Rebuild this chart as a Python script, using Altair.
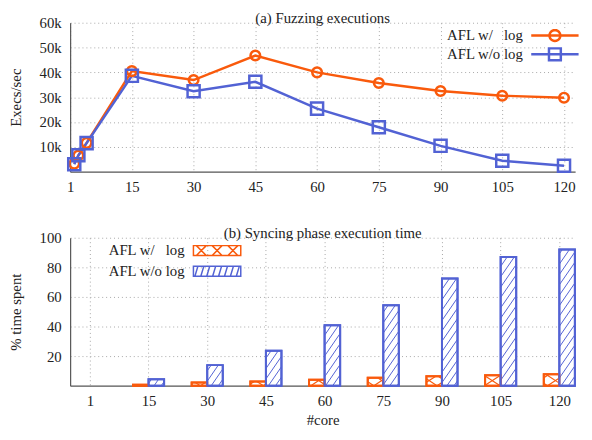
import math
import altair as alt
import pandas as pd

FONT = "Liberation Serif"
TXT = "#222222"
ORANGE = "#f95a0c"
BLUE = "#5262d4"
SERIES = ["AFL w/\u00a0\u00a0\u00a0log", "AFL w/o log"]
COLORS = [ORANGE, BLUE]

# ---------------- (a) Fuzzing executions ----------------
cores_a = [1, 2, 4, 15, 30, 45, 60, 75, 90, 105, 120]
execs_with_log = [3200, 6500, 11600, 40500, 36900, 46800, 40000, 35700, 32500, 30600, 29800]
execs_without_log = [3000, 6600, 11500, 38600, 32400, 36200, 25400, 17900, 10400, 4400, 2400]
ticks_a = [0, 15, 30, 45, 60, 75, 90, 105, 120]
tick_labels_a = ["1", "15", "30", "45", "60", "75", "90", "105", "120"]
yticks_a = [10000, 20000, 30000, 40000, 50000, 60000]

# ---------------- (b) Syncing phase execution time ----------------
cores_b = ["1", "15", "30", "45", "60", "75", "90", "105", "120"]
sync_with_log = [0, 0.6, 2.2, 2.9, 4.0, 5.3, 6.4, 7.1, 7.7]
sync_without_log = [0, 4.4, 13.9, 23.6, 40.8, 54.3, 72.4, 87.0, 92.0]
yticks_b = [20, 40, 60, 80, 100]

W = 512
HA = 151
HB = 150
XA_DOMAIN = [0, 122.7]
XB_DOMAIN = [-0.336, 8.269]
BW = 0.265  # bar width in category units

df_a = pd.DataFrame({
    "core": cores_a * 2,
    "series": [SERIES[0]] * len(cores_a) + [SERIES[1]] * len(cores_a),
    "value": execs_with_log + execs_without_log,
})
df_b = pd.DataFrame({
    "idx": list(range(len(cores_b))) * 2,
    "series": [SERIES[0]] * len(cores_b) + [SERIES[1]] * len(cores_b),
    "value": sync_with_log + sync_without_log,
})

axis_style = dict(
    domainColor="#555555", domainWidth=1.2, gridColor="#a8a8a8", gridDash=[1, 3],
    gridWidth=1, labelFont=FONT, labelFontSize=15, labelColor=TXT, titleFont=FONT,
    titleFontSize=15, titleFontWeight="normal", titleColor=TXT, ticks=False,
)

def lbl_expr(vals, labels):
    v = ",".join(str(x) for x in vals)
    l = ",".join("'" + s + "'" for s in labels)
    return f"[{l}][indexof([{v}], datum.value)]"

xa_scale = alt.Scale(domain=XA_DOMAIN, nice=False, zero=False)
ya_scale = alt.Scale(domain=[0, 60000], nice=False)
xa_axis = alt.Axis(values=ticks_a, labelExpr=lbl_expr(ticks_a, tick_labels_a), title=None,
                   labelPadding=8, grid=True, labelFlush=False, **axis_style)
ya_axis = alt.Axis(values=yticks_a, labelExpr="format(datum.value/1000, 'd') + 'k'",
                   title="Execs/sec", labelPadding=9, titlePadding=16, grid=True, **axis_style)

def XA(f):
    return alt.X(f, scale=xa_scale, axis=xa_axis)

def YA(f):
    return alt.Y(f, scale=ya_scale, axis=ya_axis)

base_a = alt.Chart(df_a)
layers_a = []
for s, c in zip(SERIES, COLORS):
    layers_a.append(base_a.transform_filter(alt.datum.series == s)
                    .mark_line(color=c, strokeWidth=2.5)
                    .encode(x=XA("core:Q"), y=YA("value:Q")))
for s, c, shp, sz in zip(SERIES, COLORS, ["circle", "square"], [95, 150]):
    layers_a.append(base_a.transform_filter(alt.datum.series == s)
                    .mark_point(color=c, shape=shp, size=sz, filled=False, strokeWidth=2.5, opacity=1)
                    .encode(x=XA("core:Q"), y=YA("value:Q")))

# legend symbols: line + marker (unit = 6px)
def circle_path(r, n=24):
    pts = [(r * math.cos(2 * math.pi * k / n), r * math.sin(2 * math.pi * k / n)) for k in range(n)]
    return "M" + "L".join(f"{x:.3f},{y:.3f}" for x, y in pts) + "Z"

half_line = 24.0 / 6
leg_circle = f"M{-half_line:.3f},0L{half_line:.3f},0" + circle_path(5.5 / 6)
leg_square = f"M{-half_line:.3f},0L{half_line:.3f},0M-1,-1L1,-1L1,1L-1,1Z"

legend_style = dict(title=None, orient="none", direction="vertical", labelFont=FONT,
                    labelFontSize=15, labelColor=TXT, labelAlign="right", padding=0,
                    fillColor="white", labelLimit=200, symbolOffset=0)

leg_a = alt.Legend(legendX=484, legendY=5.5, symbolSize=144, symbolStrokeWidth=2.5,
                   labelOffset={"expr": "-40"}, rowPadding={"expr": "-6"}, **legend_style)
layers_a.append(base_a.transform_filter("false")
                .mark_point(filled=False, strokeWidth=2.5, opacity=1)
                .encode(color=alt.Color("series:N", scale=alt.Scale(domain=SERIES, range=COLORS), legend=leg_a),
                        shape=alt.Shape("series:N", scale=alt.Scale(domain=SERIES, range=[leg_circle, leg_square]),
                                        legend=leg_a)))

chart_a = alt.layer(*layers_a).properties(
    width=W, height=HA,
    title=alt.TitleParams("(a) Fuzzing executions", font=FONT, fontSize=15, fontWeight="normal",
                          color=TXT, offset=-10, anchor="middle"))

# ---------------- (b) ----------------
xb_scale = alt.Scale(domain=XB_DOMAIN, nice=False, zero=False)
yb_scale = alt.Scale(domain=[0, 100], nice=False)
xb_axis = alt.Axis(values=list(range(len(cores_b))),
                   labelExpr=lbl_expr(list(range(len(cores_b))), cores_b), title="#core",
                   labelPadding=8, titlePadding=4, grid=True, labelFlush=False, **axis_style)
yb_axis = alt.Axis(values=yticks_b, title="% time spent", labelPadding=9, titlePadding=16,
                   grid=True, **axis_style)

def XB(f):
    return alt.X(f, scale=xb_scale, axis=xb_axis)

def YB(f):
    return alt.Y(f, scale=yb_scale, axis=yb_axis)

SX = W / (XB_DOMAIN[1] - XB_DOMAIN[0])
SY = HB / 100.0

base_b = alt.Chart(df_b).transform_filter("datum.value > 0").transform_calculate(base="0")

def series_bars(s, left):
    if left:
        b = base_b.transform_filter(alt.datum.series == s).transform_calculate(
            xl=f"datum.idx - {BW}", xr="datum.idx")
    else:
        b = base_b.transform_filter(alt.datum.series == s).transform_calculate(
            xl="datum.idx", xr=f"datum.idx + {BW}")
    return b

def hatch(b, color, m, P, width=1.0):
    M = f"({m})"
    return (b.transform_calculate(ul=f"datum.xl*{SX}")
            .transform_calculate(ur=f"datum.xr*{SX}")
            .transform_calculate(vt=f"datum.value*{SY}")
            .transform_calculate(bmin=f"min(0-{M}*datum.ul, 0-{M}*datum.ur)")
            .transform_calculate(bmax=f"max(datum.vt-{M}*datum.ul, datum.vt-{M}*datum.ur)")
            .transform_calculate(ks=f"sequence(ceil(datum.bmin/{P}), floor(datum.bmax/{P})+1)")
            .transform_flatten(["ks"], ["k"])
            .transform_calculate(bb=f"datum.k*{P}")
            .transform_calculate(lo=f"min((0-datum.bb)/{M}, (datum.vt-datum.bb)/{M})")
            .transform_calculate(hi=f"max((0-datum.bb)/{M}, (datum.vt-datum.bb)/{M})")
            .transform_calculate(ua="max(datum.ul, datum.lo)")
            .transform_calculate(ub="min(datum.ur, datum.hi)")
            .transform_filter("datum.ua < datum.ub")
            .transform_calculate(hx1=f"datum.ua/{SX}")
            .transform_calculate(hy1=f"({M}*datum.ua+datum.bb)/{SY}")
            .transform_calculate(hx2=f"datum.ub/{SX}")
            .transform_calculate(hy2=f"({M}*datum.ub+datum.bb)/{SY}")
            .mark_rule(color=color, strokeWidth=width)
            .encode(x=XB("hx1:Q"), x2="hx2:Q", y=YB("hy1:Q"), y2="hy2:Q"))

layers_b = []
b_or = series_bars(SERIES[0], True)
b_bl = series_bars(SERIES[1], False)
for b, c in [(b_or, ORANGE), (b_bl, BLUE)]:
    layers_b.append(b.mark_rect(fill="white", stroke=c, strokeWidth=2)
                    .encode(x=XB("xl:Q"), x2="xr:Q", y=YB("value:Q"), y2="base:Q"))
layers_b.append(hatch(b_or, ORANGE, 0.65, 10.4, 1.2))
layers_b.append(hatch(b_or, ORANGE, -0.65, 10.4, 1.2))
layers_b.append(hatch(b_bl, BLUE, 1.45, 10.5, 1.0))
for b, c in [(b_or, ORANGE), (b_bl, BLUE)]:
    layers_b.append(b.mark_rect(fillOpacity=0, stroke=c, strokeWidth=2)
                    .encode(x=XB("xl:Q"), x2="xr:Q", y=YB("value:Q"), y2="base:Q"))

# legend swatches (unit = 5px): rectangle 48x10 with pattern
hw = 4.8
rect = f"M{-hw},-1L{hw},-1L{hw},1L{-hw},1Z"
xs = ""
for cx in [-3.2, 0, 3.2]:
    xs += f"M{cx-1:.2f},-1L{cx+1:.2f},1M{cx-1:.2f},1L{cx+1:.2f},-1"
stripes = ""
x0 = -hw + 0.3
while x0 + 0.6 <= hw:
    stripes += f"M{x0:.2f},1L{x0+0.6:.2f},-1"
    x0 += 1.2
sw_orange = rect + xs
sw_blue = rect + stripes

leg_b = alt.Legend(legendX=141.5, legendY=5.5, symbolSize=100, symbolStrokeWidth=1.5,
                   labelOffset={"expr": "-40.5"}, rowPadding=4, **legend_style)
layers_b.append(alt.Chart(df_b).transform_filter("false")
                .mark_point(filled=False, strokeWidth=1.5, opacity=1)
                .encode(color=alt.Color("series:N", scale=alt.Scale(domain=SERIES, range=COLORS), legend=leg_b),
                        shape=alt.Shape("series:N", scale=alt.Scale(domain=SERIES, range=[sw_orange, sw_blue]),
                                        legend=leg_b)))

chart_b = alt.layer(*layers_b).properties(
    width=W, height=HB,
    title=alt.TitleParams("(b) Syncing phase execution time", font=FONT, fontSize=15,
                          fontWeight="normal", color=TXT, offset=-10, anchor="middle"))

chart = (alt.vconcat(chart_a, chart_b, spacing=67, bounds="flush")
         .resolve_scale(color="independent", shape="independent")
         .properties(padding={"left": 0, "top": 0, "right": 0, "bottom": 0}, background="white")
         .configure_view(stroke=None))

chart.save("out.html", embed_options={"renderer": "svg", "actions": False})
